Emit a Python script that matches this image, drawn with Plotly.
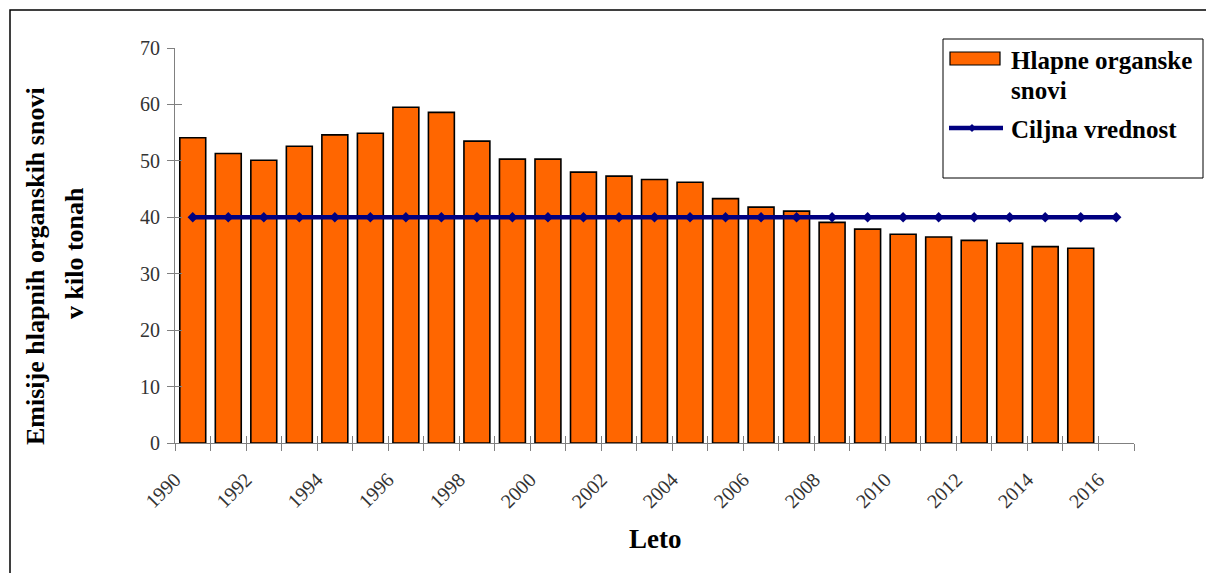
import plotly.graph_objects as go

# Emissions of volatile organic compounds (kt) per year, with the target value
years = [1990, 1991, 1992, 1993, 1994, 1995, 1996, 1997, 1998, 1999, 2000, 2001, 2002,
         2003, 2004, 2005, 2006, 2007, 2008, 2009, 2010, 2011, 2012, 2013, 2014, 2015]
emissions = [54.1, 51.3, 50.1, 52.6, 54.6, 54.9, 59.5, 58.6, 53.5, 50.3, 50.3, 48.0, 47.3,
             46.7, 46.2, 43.3, 41.8, 41.1, 39.1, 37.9, 37.0, 36.5, 35.9, 35.4, 34.8, 34.5]

target_years = [1990, 1991, 1992, 1993, 1994, 1995, 1996, 1997, 1998, 1999, 2000, 2001, 2002,
                2003, 2004, 2005, 2006, 2007, 2008, 2009, 2010, 2011, 2012, 2013, 2014, 2015, 2016]
target = [40, 40, 40, 40, 40, 40, 40, 40, 40, 40, 40, 40, 40, 40,
          40, 40, 40, 40, 40, 40, 40, 40, 40, 40, 40, 40, 40]

year_labels = ["1990", "1992", "1994", "1996", "1998", "2000", "2002",
               "2004", "2006", "2008", "2010", "2012", "2014", "2016"]

bar_name = "Hlapne organske<br>snovi"
line_name = "Ciljna vrednost"
x_title = "Leto"
y_title_lines = ["Emisije hlapnih organskih snovi", "v kilo tonah"]

FONT = "Liberation Serif"
ORANGE = "#FF6600"
NAVY = "#000080"
AXIS_GREY = "#808080"

W, H = 1206, 573
L, R, T, B = 175, 72, 48, 130
PW, PH = W - L - R, H - T - B


def px(xp):
    return (xp - L) / PW


def py(yp):
    return (H - B - yp) / PH


# category boundaries: ticks between years, labels on every second boundary
x_lo, x_hi = years[0] - 0.5, target_years[-1] + 0.5
boundaries = [x_lo + k for k in range(len(target_years) + 1)]
label_map = {int(lab) - 0.5: lab for lab in year_labels}
tick_text = [label_map.get(b, "") for b in boundaries]

fig = go.Figure()
fig.add_trace(go.Bar(
    x=years, y=emissions, name=bar_name, width=0.73,
    marker=dict(color=ORANGE, line=dict(color="black", width=1.6)),
    showlegend=False,
))
fig.add_trace(go.Scatter(
    x=target_years, y=target, name=line_name, mode="lines+markers",
    line=dict(color=NAVY, width=4.5),
    marker=dict(symbol="diamond", size=8, color=NAVY),
    showlegend=False,
))
# empty trace so the overlay axes (inner tick halves) are drawn
fig.add_trace(go.Scatter(x=[], y=[], xaxis="x2", yaxis="y2", showlegend=False,
                         hoverinfo="skip"))

tick_font = dict(family=FONT, size=20, color="#333333")
axis_common = dict(showgrid=False, zeroline=False, linecolor=AXIS_GREY, linewidth=1,
                   tickcolor=AXIS_GREY, tickwidth=1, ticklen=7)

fig.update_layout(
    width=W, height=H,
    margin=dict(l=L, r=R, t=T, b=B),
    paper_bgcolor="white", plot_bgcolor="white",
    xaxis=dict(range=[x_lo, x_hi], tickmode="array", tickvals=boundaries, ticktext=tick_text,
               tickangle=-45, ticks="outside", showline=True, tickfont=tick_font,
               ticklabelstandoff=9, **axis_common),
    yaxis=dict(range=[0, 70], tickmode="array", tickvals=list(range(0, 71, 10)),
               ticks="outside", showline=True, tickfont=tick_font,
               ticklabelstandoff=3, **axis_common),
    xaxis2=dict(range=[x_lo, x_hi], overlaying="x", anchor="y2", tickmode="array",
                tickvals=boundaries, ticks="inside", showticklabels=False,
                showline=False, showgrid=False, zeroline=False,
                tickcolor=AXIS_GREY, ticklen=7, tickwidth=1),
    yaxis2=dict(range=[0, 70], overlaying="y", anchor="x2", tickmode="array",
                tickvals=list(range(0, 71, 10)), ticks="inside", showticklabels=False,
                showline=False, showgrid=False, zeroline=False,
                tickcolor=AXIS_GREY, ticklen=7, tickwidth=1),
    showlegend=False,
)

# outer frame of the chart
fig.add_shape(type="rect", xref="paper", yref="paper",
              x0=px(10), x1=px(1230), y0=py(600), y1=py(10),
              line=dict(color="black", width=1.5), fillcolor="rgba(0,0,0,0)", layer="below")

# legend box with its swatches
fig.add_shape(type="rect", xref="paper", yref="paper",
              x0=px(943), x1=px(1203), y0=py(178), y1=py(39),
              line=dict(color="black", width=1), fillcolor="white")
fig.add_shape(type="rect", xref="paper", yref="paper",
              x0=px(950), x1=px(1000), y0=py(65), y1=py(52),
              line=dict(color="black", width=1.2), fillcolor=ORANGE)
fig.add_shape(type="line", xref="paper", yref="paper",
              x0=px(949), x1=px(1003), y0=py(128), y1=py(128),
              line=dict(color=NAVY, width=4.5))
fig.add_shape(type="path", xref="paper", yref="paper",
              path=f"M {px(972)} {py(124)} L {px(976)} {py(128)} L {px(972)} {py(132)} L {px(968)} {py(128)} Z",
              fillcolor=NAVY, line=dict(color=NAVY, width=0))

annotations = [
    dict(text="<b>Hlapne organske</b>", x=px(1009), y=py(61), xanchor="left", yanchor="middle", size=25),
    dict(text="<b>snovi</b>", x=px(1009), y=py(90), xanchor="left", yanchor="middle", size=25),
    dict(text="<b>Ciljna vrednost</b>", x=px(1009), y=py(129), xanchor="left", yanchor="middle", size=25),
    dict(text="<b>" + x_title + "</b>", x=px(655), y=py(539), xanchor="center", yanchor="middle", size=27),
    dict(text="<b>" + y_title_lines[0] + "</b>", x=px(35), y=py(266), textangle=-90,
         xanchor="center", yanchor="middle", size=26),
    dict(text="<b>" + y_title_lines[1] + "</b>", x=px(74), y=py(253), textangle=-90,
         xanchor="center", yanchor="middle", size=26),
]
for a in annotations:
    size = a.pop("size")
    fig.add_annotation(xref="paper", yref="paper", showarrow=False,
                       font=dict(family=FONT, size=size, color="black"), **a)

fig.write_html("out.html")
